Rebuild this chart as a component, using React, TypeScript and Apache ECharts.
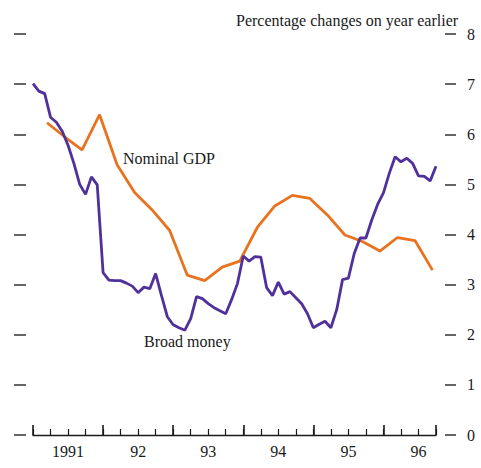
import React, { useEffect, useRef } from "react";
import * as echarts from "echarts";

// Broad money, monthly from January 1991 (% change on year earlier)
const broadMoneyStart = 1991;
const broadMoney = [
  7.01, 6.86, 6.81, 6.34, 6.24, 6.06, 5.78, 5.42, 5.0, 4.8, 5.15, 4.99,
  3.24, 3.09, 3.08, 3.08, 3.03, 2.97, 2.84, 2.95, 2.92, 3.22, 2.78, 2.36,
  2.2, 2.14, 2.09, 2.32, 2.76, 2.72, 2.62, 2.54, 2.48, 2.42, 2.7, 3.02,
  3.57, 3.47, 3.56, 3.55, 2.94, 2.78, 3.05, 2.81, 2.86, 2.74, 2.62, 2.42,
  2.14, 2.21, 2.27, 2.14, 2.5, 3.1, 3.13, 3.62, 3.93, 3.93, 4.29, 4.6,
  4.83, 5.22, 5.55, 5.45, 5.52, 5.42, 5.17, 5.16, 5.07, 5.36,
];

// Nominal GDP, quarterly, first point plotted at 1991.2
const gdpStart = 1991.2;
const nominalGdp = [
  6.23, 5.95, 5.69, 6.39, 5.39, 4.84, 4.49, 4.08, 3.19, 3.08, 3.35, 3.47,
  4.14, 4.57, 4.78, 4.72, 4.39, 3.99, 3.86, 3.67, 3.94, 3.88, 3.29,
];

const yearTicks = [1991, 1992, 1993, 1994, 1995, 1996];
const yearLabels = ["1991", "92", "93", "94", "95", "96"];
const yTicks = [0, 1, 2, 3, 4, 5, 6, 7, 8];

const title = "Percentage changes on year earlier";
const seriesNames = ["Nominal GDP", "Broad money"];

const FONT = "'Liberation Serif', 'Times New Roman', serif";
const PURPLE = "#50309a";
const ORANGE = "#e8731f";
const INK = "#1a1a1a";

export default function App() {
  const ref = useRef<HTMLDivElement>(null);

  useEffect(() => {
    if (!ref.current) return;
    const chart = echarts.init(ref.current, null, { renderer: "svg" });

    const bmData = broadMoney.map((v, i) => [broadMoneyStart + i / 12, v]);
    const gdpData = nominalGdp.map((v, i) => [gdpStart + i * 0.25, v]);
    const labelValues = yearTicks.map((y) => y + 0.5);

    const xMin = yearTicks[0];
    const xMax = 1996.75;

    chart.setOption({
      animation: false,
      backgroundColor: "#ffffff",
      title: {
        text: title,
        left: 236,
        top: 12,
        padding: 0,
        textStyle: {
          fontFamily: FONT,
          fontSize: 16,
          fontWeight: "normal",
          color: INK,
        },
      },
      grid: { left: 33, right: 45, top: 34, bottom: 33 },
      xAxis: [
        {
          type: "value",
          min: xMin,
          max: xMax,
          interval: 0.25,
          position: "bottom",
          axisLine: { show: true, lineStyle: { color: INK, width: 1.3 } },
          axisTick: { show: true, inside: true, length: 6, lineStyle: { color: INK, width: 1.2 } },
          axisLabel: { show: false },
          splitLine: { show: false },
        },
        {
          type: "value",
          min: xMin,
          max: xMax,
          interval: 1,
          position: "bottom",
          axisLine: { show: false },
          axisTick: { show: true, inside: true, length: 10, lineStyle: { color: INK, width: 1.6 } },
          axisLabel: {
            show: true,
            customValues: labelValues,
            margin: 8,
            fontFamily: FONT,
            fontSize: 16,
            color: INK,
            formatter: (v: number) => {
              const idx = yearTicks.indexOf(Math.round(v - 0.5));
              return idx >= 0 ? yearLabels[idx] : "";
            },
          },
          splitLine: { show: false },
        },
      ],
      yAxis: [
        {
          type: "value",
          min: yTicks[0],
          max: yTicks[yTicks.length - 1],
          interval: 1,
          position: "left",
          offset: 7,
          axisLine: { show: false },
          axisTick: { show: true, length: 12, lineStyle: { color: "#333", width: 1.5 } },
          axisLabel: { show: false },
          splitLine: { show: false },
        },
        {
          type: "value",
          min: yTicks[0],
          max: yTicks[yTicks.length - 1],
          interval: 1,
          position: "right",
          offset: 9,
          axisLine: { show: false },
          axisTick: { show: true, length: 11, lineStyle: { color: "#333", width: 1.5 } },
          axisLabel: {
            show: true,
            margin: 22,
            fontFamily: FONT,
            fontSize: 16,
            color: INK,
            align: "left",
          },
          splitLine: { show: false },
        },
      ],
      series: [
        {
          name: seriesNames[0],
          type: "line",
          xAxisIndex: 0,
          yAxisIndex: 0,
          data: gdpData,
          showSymbol: false,
          symbol: "none",
          lineStyle: { color: ORANGE, width: 2.8 },
          z: 2,
        },
        {
          name: seriesNames[1],
          type: "line",
          xAxisIndex: 0,
          yAxisIndex: 0,
          data: bmData,
          showSymbol: false,
          symbol: "none",
          lineStyle: { color: PURPLE, width: 2.8 },
          z: 3,
        },
      ],
      graphic: [
        {
          type: "text",
          left: 123,
          top: 150,
          style: { text: seriesNames[0], fontFamily: FONT, fontSize: 16, fill: INK },
        },
        {
          type: "text",
          left: 144,
          top: 333,
          style: { text: seriesNames[1], fontFamily: FONT, fontSize: 16, fill: INK },
        },
      ],
    });

    return () => chart.dispose();
  }, []);

  return (
    <div
      ref={ref}
      style={{ position: "fixed", left: 0, top: 0, width: 481, height: 468, background: "#fff" }}
    />
  );
}
